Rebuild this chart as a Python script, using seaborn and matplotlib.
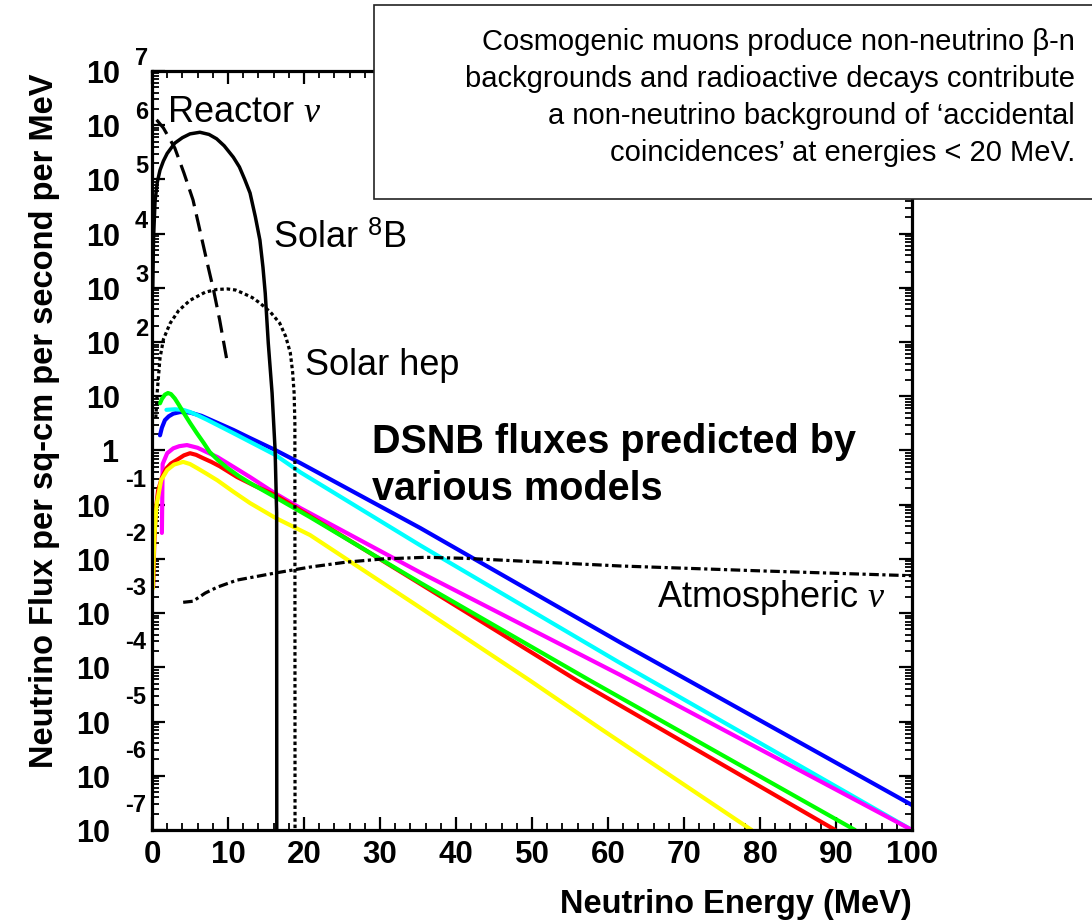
import matplotlib
matplotlib.use("Agg")
import matplotlib.pyplot as plt
import numpy as np
import pandas as pd
import seaborn as sns
from matplotlib.patches import Rectangle
from matplotlib.ticker import MultipleLocator, LogLocator, NullFormatter

# ---------------- data (energy in MeV, log10 of flux per cm^2 s MeV) ----------------
reactor_energy = [0.6, 1.5, 3.0, 4.2, 5.4, 6.4, 7.4, 8.1, 8.9, 9.85]
reactor_logflux = [6.10, 5.95, 5.58, 5.12, 4.62, 4.00, 3.38, 2.96, 2.41, 1.67]

b8_energy = [0.1, 0.2, 0.4, 0.7, 1.05, 1.5, 2.0, 3.0, 4.0, 5.0, 6.3, 7.5, 8.5, 9.5, 10.7,
             11.5, 12.2, 12.9, 13.6, 14.2, 14.6, 14.9, 15.3, 15.8, 16.2, 16.4, 16.42]
b8_logflux = [3.0, 3.9, 4.6, 4.95, 5.17, 5.34, 5.48, 5.67, 5.77, 5.84, 5.87, 5.83, 5.75, 5.62, 5.41,
              5.23, 5.00, 4.75, 4.31, 3.88, 3.38, 2.90, 1.98, 1.06, 0.0, -1.15, -7.2]

hep_energy = [0.5, 0.7, 1.05, 1.5, 2.0, 2.4, 3.5, 5.0, 7.0, 8.5, 9.9, 11.0, 12.0, 13.2, 14.2,
              15.6, 16.8, 17.6, 18.2, 18.5, 18.7, 18.8, 18.82]
hep_logflux = [0.6, 1.1, 1.7, 2.05, 2.22, 2.35, 2.58, 2.77, 2.92, 2.97, 2.98, 2.96, 2.90, 2.82, 2.72,
               2.55, 2.35, 2.10, 1.80, 1.45, 1.06, 0.5, -7.2]

atm_energy = [4.1, 5.4, 7.0, 8.6, 11.2, 16.2, 20.8, 25.5, 30.4, 36.0, 41.4, 50.0, 61.6, 80.0, 100.0]
atm_logflux = [-2.80, -2.78, -2.63, -2.52, -2.39, -2.26, -2.15, -2.06, -2.00, -1.97, -1.99,
               -2.05, -2.13, -2.22, -2.31]

# DSNB model predictions
blue_energy = [1.05, 1.3, 1.7, 2.2, 2.8, 3.7, 5.0, 6.5, 8.6, 10.7, 12.9, 16.2, 19.5, 35.3, 61.6, 100.0]
blue_logflux = [0.28, 0.42, 0.56, 0.63, 0.68, 0.71, 0.70, 0.64, 0.51, 0.38, 0.23, 0.01, -0.23,
                -1.43, -3.54, -6.54]

cyan_energy = [1.9, 3.0, 4.1, 5.0, 6.0, 7.2, 8.6, 10.7, 12.9, 16.2, 19.5, 35.3, 61.6, 100.0]
cyan_logflux = [0.75, 0.76, 0.75, 0.71, 0.65, 0.57, 0.47, 0.32, 0.16, -0.08, -0.40, -1.75, -3.92, -7.0]

magenta_energy = [1.3, 1.4, 2.0, 2.8, 3.6, 4.6, 6.0, 7.2, 8.6, 10.7, 12.9, 16.2, 19.5, 35.3, 61.6, 100.0]
magenta_logflux = [-1.52, -0.25, -0.05, 0.04, 0.08, 0.10, 0.05, -0.03, -0.12, -0.30, -0.49, -0.79,
                   -1.06, -2.25, -4.14, -7.0]

red_energy = [0.15, 0.3, 0.5, 0.8, 1.3, 1.9, 2.5, 3.2, 4.2, 5.0, 5.8, 6.7, 7.8, 8.9, 11.2, 13.5,
              16.2, 19.5, 35.3, 55.9, 89.9]
red_logflux = [-2.52, -1.7, -1.1, -0.74, -0.5, -0.33, -0.24, -0.18, -0.09, -0.05, -0.08, -0.14,
               -0.21, -0.29, -0.49, -0.65, -0.82, -1.10, -2.46, -4.24, -7.0]

yellow_energy = [0.1, 0.3, 0.6, 1.2, 2.0, 2.9, 4.1, 5.0, 6.0, 7.2, 8.6, 10.7, 12.9, 16.2, 20.8,
                 35.3, 49.7, 58.9, 78.9]
yellow_logflux = [-2.55, -1.6, -1.0, -0.55, -0.36, -0.26, -0.21, -0.25, -0.33, -0.43, -0.55, -0.76,
                  -0.97, -1.24, -1.56, -2.90, -4.24, -5.12, -7.0]

green_energy = [1.05, 1.3, 1.7, 2.1, 2.5, 3.0, 3.5, 4.1, 5.0, 5.9, 6.8, 7.6, 8.7, 9.9, 11.4, 12.9,
                16.2, 20.8, 35.3, 57.6, 92.5]
green_logflux = [0.87, 0.95, 1.03, 1.06, 1.04, 0.96, 0.85, 0.71, 0.51, 0.32, 0.14, -0.03, -0.18,
                 -0.32, -0.47, -0.60, -0.86, -1.23, -2.44, -4.24, -7.0]

dsnb_models = ["blue", "cyan", "magenta", "red", "yellow", "green"]
dsnb_colors = ["#0000ff", "#00ffff", "#ff00ff", "#ff0000", "#ffff00", "#00ff00"]

x_ticks = [0, 10, 20, 30, 40, 50, 60, 70, 80, 90, 100]
y_decades = list(range(-7, 8))

box_lines = [
    "Cosmogenic muons produce non-neutrino \u03b2-n",
    "backgrounds and radioactive decays contribute",
    "a non-neutrino background of \u2018accidental",
    "coincidences\u2019 at energies < 20 MeV.",
]

# ---------------- style ----------------
sns.set_theme(style="ticks")
plt.rcParams["font.family"] = ["Liberation Sans", "DejaVu Sans"]
plt.rcParams["text.color"] = "black"
plt.rcParams["axes.labelcolor"] = "black"
plt.rcParams["xtick.color"] = "black"
plt.rcParams["ytick.color"] = "black"
plt.rcParams["mathtext.fontset"] = "custom"
plt.rcParams["mathtext.rm"] = "Liberation Sans"
plt.rcParams["mathtext.it"] = "Liberation Serif:italic"
plt.rcParams["mathtext.bf"] = "Liberation Sans:bold"

W, H = 1092, 924
fig = plt.figure(figsize=(W / 100, H / 100), dpi=100)
fig.patch.set_facecolor("white")
ax = fig.add_axes([152 / W, 1 - 830 / H, (912 - 152) / W, (830 - 71) / H])
ax.set_facecolor("white")


def frame(energy, logflux):
    return pd.DataFrame({"E": energy, "flux": np.power(10.0, logflux)})


# DSNB curves
dsnb_series = {
    "blue": (blue_energy, blue_logflux),
    "cyan": (cyan_energy, cyan_logflux),
    "magenta": (magenta_energy, magenta_logflux),
    "red": (red_energy, red_logflux),
    "yellow": (yellow_energy, yellow_logflux),
    "green": (green_energy, green_logflux),
}
dsnb = pd.concat(
    [frame(*dsnb_series[m]).assign(model=m) for m in dsnb_models], ignore_index=True
)
sns.lineplot(data=dsnb, x="E", y="flux", hue="model", hue_order=dsnb_models,
             palette=dict(zip(dsnb_models, dsnb_colors)), sort=False, estimator=None,
             lw=3.0, legend=False, ax=ax, solid_joinstyle="round", solid_capstyle="round")

# Background / solar / reactor curves
sns.lineplot(data=frame(b8_energy, b8_logflux), x="E", y="flux", sort=False,
             estimator=None, color="black", lw=2.5, ax=ax, solid_joinstyle="round")
sns.lineplot(data=frame(reactor_energy, reactor_logflux), x="E", y="flux", sort=False,
             estimator=None, color="black", lw=2.3, ax=ax, linestyle=(0, (5.5, 2.6)))
sns.lineplot(data=frame(hep_energy, hep_logflux), x="E", y="flux", sort=False,
             estimator=None, color="black", lw=2.3, ax=ax, linestyle=(0, (1.1, 0.9)))
sns.lineplot(data=frame(atm_energy, atm_logflux), x="E", y="flux", sort=False,
             estimator=None, color="black", lw=2.3, ax=ax,
             linestyle=(0, (3.0, 1.1, 1.0, 1.1)))

# ---------------- axes ----------------
ax.set_yscale("log")
ax.set_xlim(0, 100)
ax.set_ylim(1e-7, 1e7)
ax.set_xlabel("")
ax.set_ylabel("")
for s in ax.spines.values():
    s.set_linewidth(2.3)
    s.set_color("black")

ax.xaxis.set_major_locator(MultipleLocator(10))
ax.xaxis.set_minor_locator(MultipleLocator(2))
ax.set_xticks(x_ticks)
ax.set_xticklabels([str(v) for v in x_ticks])
ax.yaxis.set_major_locator(LogLocator(base=10, numticks=30))
ax.yaxis.set_minor_locator(LogLocator(base=10, subs=np.arange(2, 10), numticks=30))
ax.yaxis.set_major_formatter(NullFormatter())
ax.yaxis.set_minor_formatter(NullFormatter())
ax.tick_params(which="both", direction="in", top=True, right=True, color="black")
ax.tick_params(which="major", length=9.5, width=1.6)
ax.tick_params(which="minor", length=5, width=1.3)
ax.tick_params(axis="x", which="major", pad=7, labelsize=22.5, labelcolor="black")
for lab in ax.get_xticklabels():
    lab.set_fontweight("bold")

# y tick labels written as 10 with a raised exponent
ytf = ("axes fraction", "data")
tick_kw = dict(xycoords=ytf, textcoords="offset pixels", va="baseline",
               fontweight="bold", color="black", annotation_clip=False)
for k in y_decades:
    y = 10.0 ** k
    if k == 0:
        ax.annotate("1", xy=(0, y), xytext=(-34, -12), ha="right", fontsize=22, **tick_kw)
    elif k == 1:
        ax.annotate("10", xy=(0, y), xytext=(-32, -12), ha="right", fontsize=22, **tick_kw)
    elif k > 1:
        ax.annotate("10", xy=(0, y), xytext=(-32, -12), ha="right", fontsize=22, **tick_kw)
        ax.annotate(str(k), xy=(0, y), xytext=(-17, 6), ha="left", fontsize=17, **tick_kw)
    else:
        ax.annotate("10", xy=(0, y), xytext=(-42, -12), ha="right", fontsize=22, **tick_kw)
        ax.annotate(str(k), xy=(0, y), xytext=(-27, 18), ha="left", fontsize=17, **tick_kw)

# axis titles
ax.text(1.0, (830 - 913) / 759, "Neutrino Energy (MeV)", transform=ax.transAxes,
        ha="right", va="baseline", fontsize=23.5, fontweight="bold", color="black")
ax.text((53 - 152) / 760, (830 - 74) / 759, "Neutrino Flux per sq-cm per second per MeV",
        transform=ax.transAxes, rotation=90, rotation_mode="anchor",
        ha="right", va="baseline", fontsize=23.5, fontweight="bold", color="black")

# curve labels
lab_kw = dict(fontsize=26, va="baseline", ha="left", color="black")
ax.text(2.0, 10 ** 6.06, r"Reactor $\nu$", **lab_kw)
ax.text(15.9, 10 ** 3.73, r"Solar $^{8}$B", **lab_kw)
ax.text(20.1, 10 ** 1.39, "Solar hep", **lab_kw)
ax.text(66.4, 10 ** -2.89, r"Atmospheric $\nu$", **lab_kw)
ax.text(28.9, 10 ** -0.05, "DSNB fluxes predicted by", fontsize=28.5,
        fontweight="bold", va="baseline", ha="left", color="black")
ax.text(28.9, 10 ** -0.92, "various models", fontsize=28.5,
        fontweight="bold", va="baseline", ha="left", color="black")

# note box in the upper right
box = Rectangle((374 / W, 1 - 199 / H), (1100 - 374) / W, (199 - 5) / H,
                transform=fig.transFigure, facecolor="white", edgecolor="#222222",
                lw=1.2, zorder=10, clip_on=False)
fig.patches.append(box)
for i, line in enumerate(box_lines):
    fig.text(1075 / W, 1 - (50 + 37 * i) / H, line, ha="right", va="baseline",
             fontsize=21, color="black", zorder=11)

fig.savefig("out.png", dpi=100, facecolor="white")
